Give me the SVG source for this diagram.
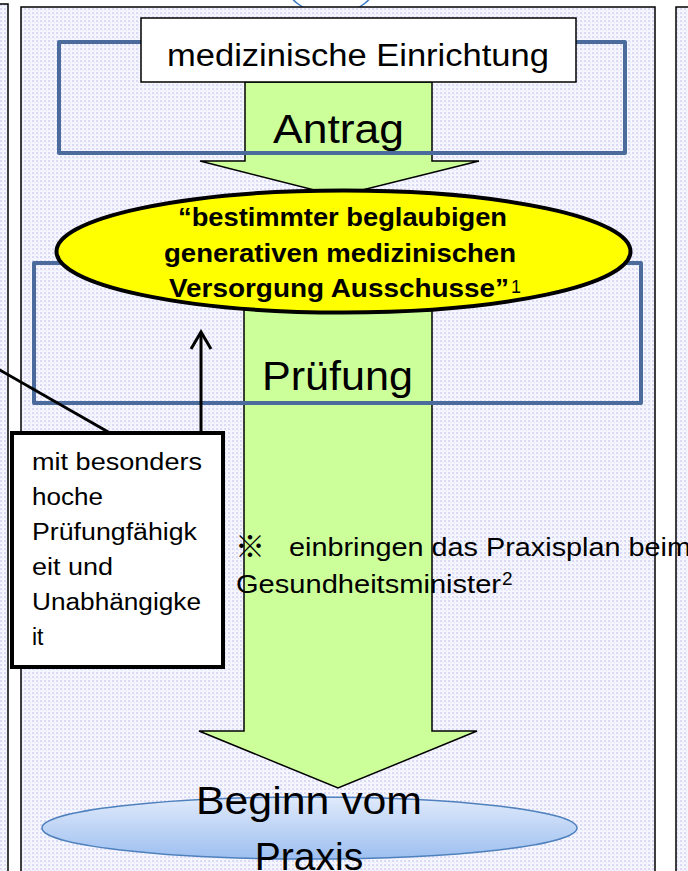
<svg xmlns="http://www.w3.org/2000/svg" width="688" height="871" viewBox="0 0 688 871">
<defs>
<pattern id="dots" width="4" height="4" patternUnits="userSpaceOnUse">
<rect width="4" height="4" fill="#f6f6fe"/>
<rect x="0" y="0" width="2" height="2" fill="#dadaf6"/>
<rect x="2" y="2" width="1" height="1" fill="#e4e4f8"/>
</pattern>
<linearGradient id="blueGrad" x1="0" y1="0" x2="0" y2="1">
<stop offset="0" stop-color="#e0eafb"/>
<stop offset="1" stop-color="#9dbff0"/>
</linearGradient>
<style>
.panel{fill:url(#dots);stroke:#000;stroke-width:1.5}
.frame{fill:none;stroke:#4a6b9b;stroke-width:4;stroke-linejoin:round}
.arrow{fill:#ccff99;stroke:#000;stroke-width:1.5}
.sans{font-family:"Liberation Sans","Noto Sans",Arial,sans-serif}
.big{font-size:40px;fill:#000}
.bold{font-weight:bold;font-size:25px;fill:#000}
.note{font-size:23px;fill:#000}
.conn{stroke:#000;stroke-width:3;fill:none}
</style>
</defs>
<rect width="688" height="871" fill="#fff"/>
<ellipse cx="331" cy="-25" rx="48" ry="40" fill="#fff" stroke="#3a7ac8" stroke-width="1.5"/>
<g id="panels">
<rect class="panel" x="-20" y="4" width="28" height="900"/>
<rect class="panel" x="21" y="7" width="634" height="900"/>
<rect class="panel" x="676" y="7" width="40" height="900"/>
</g>
<g id="arrow1">
<polygon class="arrow" points="245,82 432,82 432,161 479,161 338,196 200,161 245,161"/>
</g>
<g id="arrow2">
<polygon class="arrow" points="244,290 432,290 432,731 477,731 338,788 199,731 244,731"/>
</g>
<g id="frame-pruefung">
<rect class="frame" x="34" y="263" width="607" height="140"/>
</g>
<g id="frame-antrag">
<rect class="frame" x="59" y="42" width="566" height="111"/>
</g>
<g id="committee">
<ellipse cx="343.5" cy="251.5" rx="287" ry="61" fill="#ffff00" stroke="#000" stroke-width="4"/>
<text class="sans bold" x="178" y="226" textLength="329" lengthAdjust="spacingAndGlyphs">“bestimmter beglaubigen</text>
<text class="sans bold" x="164" y="262" textLength="352" lengthAdjust="spacingAndGlyphs">generativen medizinischen</text>
<text class="sans bold" x="169" y="297" textLength="340" lengthAdjust="spacingAndGlyphs">Versorgung Ausschusse”</text>
<text class="sans" x="511" y="293" font-size="18">1</text>
</g>
<g id="institution">
<rect x="141" y="18" width="435" height="64" fill="#fff" stroke="#000" stroke-width="1.5"/>
<text class="sans" x="167" y="66" font-size="31" textLength="382" lengthAdjust="spacingAndGlyphs">medizinische Einrichtung</text>
</g>
<g id="labels">
<text class="sans big" x="273" y="143" textLength="131" lengthAdjust="spacingAndGlyphs">Antrag</text>
<text class="sans big" x="262" y="390" textLength="151" lengthAdjust="spacingAndGlyphs">Prüfung</text>
</g>
<g id="connectors">
<line class="conn" x1="-2" y1="369" x2="110" y2="433" stroke-width="2.5"/>
<line class="conn" x1="201" y1="433" x2="201" y2="333"/>
<polyline class="conn" points="191,349 201,332 211,349"/>
</g>
<g id="callout">
<rect x="12" y="433" width="211" height="234" fill="#fff" stroke="#000" stroke-width="4"/>
<text class="sans note" x="32" y="470" textLength="170" lengthAdjust="spacingAndGlyphs">mit besonders</text>
<text class="sans note" x="32" y="505" textLength="71" lengthAdjust="spacingAndGlyphs">hoche</text>
<text class="sans note" x="32" y="540" textLength="165" lengthAdjust="spacingAndGlyphs">Prüfungfähigk</text>
<text class="sans note" x="32" y="575" textLength="81" lengthAdjust="spacingAndGlyphs">eit und</text>
<text class="sans note" x="32" y="610" textLength="169" lengthAdjust="spacingAndGlyphs">Unabhängigke</text>
<text class="sans note" x="32" y="645">it</text>
</g>
<g id="note">
<text x="235" y="557" font-size="30" font-family="'Noto Sans CJK JP','Noto Sans CJK SC',sans-serif" fill="#000">※</text>
<text class="sans" x="289" y="556" font-size="26" fill="#000" textLength="402" lengthAdjust="spacingAndGlyphs">einbringen das Praxisplan beim</text>
<text class="sans" x="236" y="593" font-size="26" fill="#000" textLength="265" lengthAdjust="spacingAndGlyphs">Gesundheitsminister</text>
<text class="sans" x="502" y="585" font-size="19" fill="#000">2</text>
</g>
<g id="start">
<ellipse cx="309.5" cy="828" rx="267.5" ry="31" fill="url(#blueGrad)" stroke="#4f81bd" stroke-width="1.5"/>
<text class="sans" x="309" y="814" font-size="39" fill="#000" text-anchor="middle" textLength="226" lengthAdjust="spacingAndGlyphs">Beginn vom</text>
<text class="sans" x="309" y="870" font-size="39" fill="#000" text-anchor="middle">Praxis</text>
</g>
</svg>
